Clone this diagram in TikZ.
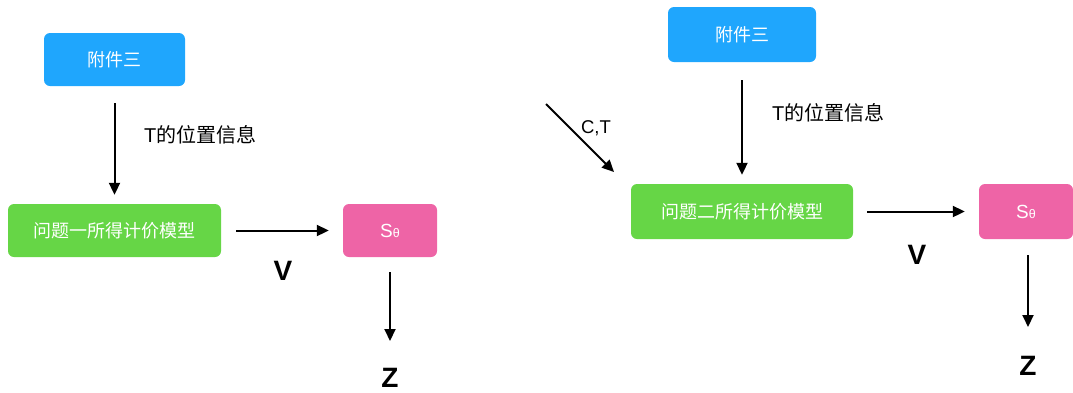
\documentclass[tikz,border=0pt]{standalone}
\usepackage{fontspec}
\setmainfont{Liberation Sans}
\newfontfamily\cjk{Noto Sans CJK SC}
\usetikzlibrary{arrows.meta}
\definecolor{cblue}{HTML}{1FA6FD}
\definecolor{cgreen}{HTML}{66D646}
\definecolor{cpink}{HTML}{EE64A6}
\tikzset{
  box/.style={rounded corners=6pt, inner sep=0pt, text=white, font=\fontsize{18}{20}\selectfont\cjk},
  arr/.style={line width=2pt, -{Triangle[length=12pt,width=11pt]}},
  lbl/.style={inner sep=0pt, font=\fontsize{20}{22}\selectfont},
  big/.style={inner sep=0pt, font=\fontsize{28}{30}\selectfont\bfseries},
}
\newcommand{\stheta}{{\fontsize{19}{20}\selectfont S}{\fontsize{12.5}{13}\selectfont θ}}
\begin{document}
\begin{tikzpicture}[x=1pt,y=-1pt]
\useasboundingbox (0,0) rectangle (1073,392);
% ---------- left diagram ----------
\node[box, fill=cblue, minimum width=141pt, minimum height=53pt] (blueL) at (114.5,59.5) {附件三};
\node[box, fill=cgreen, minimum width=213pt, minimum height=53pt] (greenL) at (114.5,230.5) {问题一所得计价模型};
\node[box, fill=cpink, minimum width=94pt, minimum height=53pt, font=\normalfont] (pinkL) at (390,230.5) {\stheta};
\node[lbl, anchor=west] (tL) at (144,135) {T{\cjk 的位置信息}};
\node[big] (vL) at (283,271) {V};
\node[big] (zL) at (390,378) {Z};
\coordinate (zLtip) at (390,341);
\draw[arr, shorten <=17pt, shorten >=9pt] (blueL.south) -- (greenL.north -| blueL.south);
\draw[arr, shorten <=15pt, shorten >=14pt] (greenL.east) -- (pinkL.west);
\draw[arr] ([yshift=-15pt]pinkL.south) -- (zLtip);
% ---------- right diagram ----------
\node[box, fill=cblue, minimum width=148pt, minimum height=55pt] (blueR) at (742,34.5) {附件三};
\node[box, fill=cgreen, minimum width=222pt, minimum height=55pt] (greenR) at (742,211.5) {问题二所得计价模型};
\node[box, fill=cpink, minimum width=94pt, minimum height=55pt, font=\normalfont] (pinkR) at (1026,211.5) {\stheta};
\node[lbl, anchor=west] (tR) at (772,113) {T{\cjk 的位置信息}};
\node[lbl, font=\fontsize{18.5}{20}\selectfont] (ct) at (596,128) {C,T};
\node[big] (vR) at (917,255) {V};
\node[big] (zR) at (1028,366) {Z};
\coordinate (ctStart) at (546,104);
\coordinate (ctEnd) at (614,172);
\coordinate (zRtop) at (1028,255);
\coordinate (zRtip) at (1028,327);
\draw[arr, shorten <=18pt, shorten >=9pt] (blueR.south) -- (greenR.north);
\draw[arr, shorten <=14pt, shorten >=14pt] (greenR.east) -- (pinkR.west);
\draw[arr] (ctStart) -- (ctEnd);
\draw[arr] (zRtop) -- (zRtip);
\end{tikzpicture}
\end{document}
